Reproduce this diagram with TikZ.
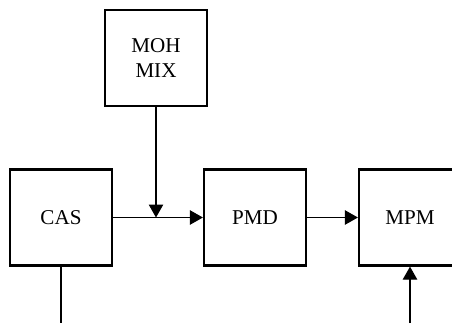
\documentclass[tikz,border=0pt]{standalone}
\usepackage{fontspec}
\setmainfont{Liberation Serif}
\usepackage{tikz}
\usetikzlibrary{arrows.meta,positioning}

\begin{document}
\begin{tikzpicture}[
  >={Triangle[length=2.6mm, width=2.9mm]},
  unit/.style={draw, line width=1.3pt, align=center,
    minimum width=2.04cm, minimum height=1.92cm, inner sep=0pt,
    font=\fontsize{12}{14.2}\selectfont},
  link/.style={draw, line width=0.6pt}
]
  \clip (0,0) rectangle (9.04,6.46);

  \node[unit] (moh) at (3.12,5.30) {MOH\\MIX};
  \node[unit] (cas) at (1.22,2.11) {CAS};
  \node[unit] (pmd) at (5.10,2.11) {PMD};
  \node[unit] (mpm) at (8.20,2.11) {MPM};

  \coordinate (mix) at (moh.south |- cas.east);
  \coordinate (casout) at (cas.south |- 0,0);
  \coordinate (mpmin) at (mpm.south |- 0,0);

  \path[link, ->] (cas.east) -- (pmd.west);
  \path[link, ->] (moh.south) -- (mix);
  \path[link, ->] (pmd.east) -- (mpm.west);
  \path[link] (cas.south) -- (casout);
  \path[link, ->] (mpmin) -- (mpm.south);
\end{tikzpicture}
\end{document}
